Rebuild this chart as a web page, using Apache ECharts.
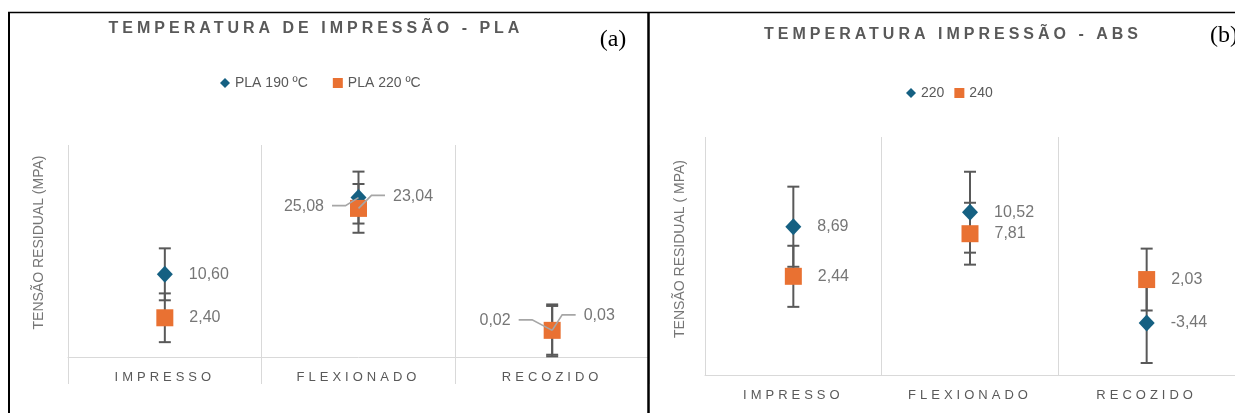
<!DOCTYPE html>
<html>
<head>
<meta charset="utf-8">
<script src="https://cdn.jsdelivr.net/npm/echarts@6/dist/echarts.min.js"></script>
<style>
  html, body { margin: 0; padding: 0; background: #fff; }
  #chart { width: 1235px; height: 413px; }
</style>
</head>
<body>
<div id="chart"></div>
<script>
// ---------- data ----------
const categories = ['IMPRESSO', 'FLEXIONADO', 'RECOZIDO'];

const plaNames = ['PLA 190 ºC', 'PLA 220 ºC'];
const pla190 = [10.60, 25.08, 0.02];
const pla220 = [2.40, 23.04, 0.03];
const pla190Err = [4.9, 4.9, 4.9];
const pla220Err = [4.6, 4.6, 4.6];
const plaRange = [-5, 35];

const absNames = ['220', '240'];
const abs220 = [8.69, 10.52, -3.44];
const abs240 = [2.44, 7.81, 2.03];
const abs220Err = [5.05, 5.1, 5.05];
const abs240Err = [3.85, 3.9, 3.9];
const absRange = [-10, 20];

const titlePLA = 'TEMPERATURA DE IMPRESSÃO - PLA';
const titleABS = 'TEMPERATURA IMPRESSÃO - ABS';
const yNamePLA = 'TENSÃO RESIDUAL (MPA)';
const yNameABS = 'TENSÃO RESIDUAL ( MPA)';

// ---------- letter spacing support (fonts tagged with lspN) ----------
(function () {
  const P = CanvasRenderingContext2D.prototype;
  const orig = P.fillText;
  P.fillText = function (t, x, y, w) {
    const m = /lsp(\d+)/.exec(this.font || '');
    if ('letterSpacing' in this) this.letterSpacing = m ? m[1] + 'px' : '0px';
    return w === undefined ? orig.call(this, t, x, y) : orig.call(this, t, x, y, w);
  };
})();

// ---------- styles ----------
const BLUE = '#156082', ORANGE = '#E97132';
const GRID = '#D9D9D9', TEXT = '#595959', LABEL = '#767676';
const FONT = '"Liberation Sans", Arial, sans-serif';
const SPACED = '"Liberation Sans", lsp4';
const fmt = v => v.toFixed(2).replace('.', ',');

function xAxisCfg(gridIndex, tickLen) {
  return {
    type: 'category', gridIndex, data: categories, boundaryGap: true,
    axisLine: { show: true, onZero: false, lineStyle: { color: GRID, width: 1 } },
    axisTick: { show: tickLen > 0, length: tickLen, interval: 0, alignWithLabel: false, lineStyle: { color: GRID, width: 1 } },
    splitLine: { show: true, interval: 0, lineStyle: { color: GRID, width: 1 } },
    axisLabel: { interval: 0, margin: 14, fontSize: 13, color: TEXT, fontFamily: SPACED }
  };
}
function yAxisCfg(gridIndex, range, name, gap, padLeft) {
  return {
    type: 'value', gridIndex, min: range[0], max: range[1],
    axisLine: { show: false }, axisTick: { show: false }, axisLabel: { show: false }, splitLine: { show: false },
    name, nameLocation: 'middle', nameRotate: 90, nameGap: gap,
    nameTextStyle: { fontSize: 14, color: LABEL, fontFamily: FONT, padding: [0, 0, 0, padLeft] }
  };
}
function scatter(name, vals, idx, symbol, size, color, hidden) {
  return {
    type: 'scatter', name, xAxisIndex: idx, yAxisIndex: idx, z: 3,
    symbol, symbolSize: size, itemStyle: { color, opacity: 1 },
    data: vals.map((v, i) => hidden.includes(i) ? { value: v, label: { show: false } } : v),
    label: { show: true, position: 'right', distance: 16, formatter: p => fmt(p.value),
             fontSize: 16, color: LABEL, fontFamily: FONT }
  };
}
function errBars(name, vals, errs, idx) {
  return {
    type: 'custom', name, xAxisIndex: idx, yAxisIndex: idx, z: 2, silent: true,
    data: vals.map((v, i) => [i, v - errs[i], v + errs[i]]),
    encode: { x: 0, y: [1, 2] },
    renderItem(params, api) {
      const x = api.value(0);
      const lo = api.coord([x, api.value(1)]);
      const hi = api.coord([x, api.value(2)]);
      const hw = 6;
      const st = { stroke: '#595959', lineWidth: 2, fill: null };
      return { type: 'group', children: [
        { type: 'line', shape: { x1: lo[0], y1: lo[1], x2: hi[0], y2: hi[1] }, style: st },
        { type: 'line', shape: { x1: lo[0] - hw, y1: lo[1], x2: lo[0] + hw, y2: lo[1] }, style: st },
        { type: 'line', shape: { x1: hi[0] - hw, y1: hi[1], x2: hi[0] + hw, y2: hi[1] }, style: st }
      ]};
    }
  };
}
// leader-line labels (placement only; values come from the arrays)
const leaders = [
  { vals: pla190, cat: 1, side: -1, kx: 13, dy: 8 },
  { vals: pla220, cat: 1, side: 1, kx: 13, dy: -13 },
  { vals: pla190, cat: 2, side: -1, kx: 20, dy: -10.5 },
  { vals: pla220, cat: 2, side: 1, kx: 10, dy: -15.5 }
];
const leaderSeries = {
  type: 'custom', name: 'leaders', xAxisIndex: 0, yAxisIndex: 0, z: 5, silent: true,
  data: leaders.map(l => [l.cat, l.vals[l.cat]]),
  encode: { x: 0, y: 1 },
  renderItem(params, api) {
    const l = leaders[params.dataIndex];
    const v = l.vals[l.cat];
    const p = api.coord([l.cat, v]);
    const s = l.side, y = p[1] + l.dy;
    const x1 = p[0] + s * l.kx, x2 = x1 + s * 13.5;
    return { type: 'group', children: [
      { type: 'polyline', shape: { points: [[p[0], p[1]], [x1, y], [x2, y]] },
        style: { stroke: '#A6A6A6', lineWidth: 1.6, fill: null } },
      { type: 'text', style: { text: fmt(v), x: x2 + s * 8, y: y + 1,
        align: s < 0 ? 'right' : 'left', textAlign: s < 0 ? 'right' : 'left',
        verticalAlign: 'middle', textVerticalAlign: 'middle',
        font: '16px ' + FONT, fill: LABEL } }
    ]};
  }
};

const chart = echarts.init(document.getElementById('chart'), null, { renderer: 'canvas' });
chart.setOption({
  animation: false,
  backgroundColor: '#fff',
  grid: [
    { left: 68, top: 145, width: 581, height: 212 },
    { left: 705, top: 137, width: 541, height: 238 }
  ],
  xAxis: [xAxisCfg(0, 27), xAxisCfg(1, 0)],
  yAxis: [yAxisCfg(0, plaRange, yNamePLA, 22, 17), yAxisCfg(1, absRange, yNameABS, 18, 14)],
  legend: [
    { data: plaNames, left: 220, top: 76, padding: 0, itemGap: 25, itemWidth: 10, itemHeight: 10,
      textStyle: { fontSize: 14, color: TEXT, fontFamily: FONT } },
    { data: absNames, left: 906, top: 86, padding: 0, itemGap: 10, itemWidth: 10, itemHeight: 10,
      textStyle: { fontSize: 14, color: TEXT, fontFamily: FONT } }
  ],
  series: [
    errBars('e190', pla190, pla190Err, 0),
    errBars('e220', pla220, pla220Err, 0),
    scatter(plaNames[0], pla190, 0, 'diamond', [16, 17], BLUE, [1, 2]),
    scatter(plaNames[1], pla220, 0, 'rect', 17, ORANGE, [1, 2]),
    leaderSeries,
    errBars('ea220', abs220, abs220Err, 1),
    errBars('ea240', abs240, abs240Err, 1),
    scatter(absNames[0], abs220, 1, 'diamond', [16, 17], BLUE, []),
    scatter(absNames[1], abs240, 1, 'rect', 17, ORANGE, [])
  ],
  graphic: [
    { type: 'text', z: 100, style: { text: titlePLA, x: 316, y: 28.5, align: 'center', textAlign: 'center',
      verticalAlign: 'middle', textVerticalAlign: 'middle', font: 'bold 16px ' + SPACED, fill: TEXT } },
    { type: 'text', z: 100, style: { text: titleABS, x: 953, y: 34.5, align: 'center', textAlign: 'center',
      verticalAlign: 'middle', textVerticalAlign: 'middle', font: 'bold 16px ' + SPACED, fill: TEXT } },
    { type: 'text', z: 100, style: { text: '(a)', x: 613, y: 40, align: 'center', textAlign: 'center',
      verticalAlign: 'middle', textVerticalAlign: 'middle', font: '24px "Liberation Serif", serif', fill: '#000' } },
    { type: 'text', z: 100, style: { text: '(b)', x: 1210, y: 36, align: 'left', textAlign: 'left',
      verticalAlign: 'middle', textVerticalAlign: 'middle', font: '24px "Liberation Serif", serif', fill: '#000' } },
    { type: 'line', z: 100, shape: { x1: 8, y1: 12.5, x2: 1235, y2: 12.5 }, style: { stroke: '#000', lineWidth: 1.5 } },
    { type: 'line', z: 100, shape: { x1: 9, y1: 12, x2: 9, y2: 413 }, style: { stroke: '#000', lineWidth: 2 } },
    { type: 'line', z: 100, shape: { x1: 648.5, y1: 12, x2: 648.5, y2: 413 }, style: { stroke: '#000', lineWidth: 2.5 } }
  ]
});
</script>
</body>
</html>
